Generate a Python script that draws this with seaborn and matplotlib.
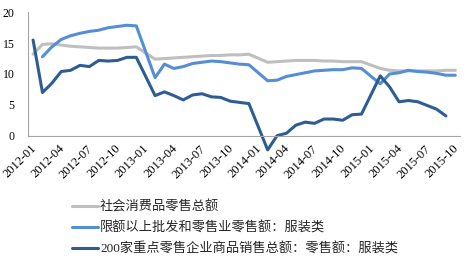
import numpy as np
import pandas as pd
import matplotlib
matplotlib.use("Agg")
import matplotlib.pyplot as plt
import seaborn as sns
from matplotlib.ticker import FixedLocator, NullFormatter

nan = np.nan

months = [f"{y}-{m:02d}" for y in (2012, 2013, 2014, 2015) for m in range(1, 13)][:46]
tick_labels = ["2012-01", "2012-04", "2012-07", "2012-10",
               "2013-01", "2013-04", "2013-07", "2013-10",
               "2014-01", "2014-04", "2014-07", "2014-10",
               "2015-01", "2015-04", "2015-07", "2015-10"]

series_names = ["社会消费品零售总额",
                "限额以上批发和零售业零售额：服装类",
                "200家重点零售企业商品销售总额：零售额：服装类"]

retail_total = [13.2, 14.8, 14.9, 14.7, 14.5, 14.4, 14.3, 14.2, 14.2, 14.2, 14.3, 14.4,
                nan, 12.4, 12.5, 12.6, 12.7, 12.8, 12.9, 13.0, 13.0, 13.1, 13.1, 13.2,
                nan, 11.9, 12.0, 12.1, 12.2, 12.2, 12.2, 12.1, 12.1, 12.0, 12.0, 12.0,
                nan, 10.9, 10.6, 10.5, 10.5, 10.5, 10.5, 10.5, 10.6, 10.6]

above_quota_apparel = [nan, 12.8, 14.4, 15.6, 16.2, 16.6, 16.9, 17.1, 17.5, 17.7, 17.9, 17.8,
                       nan, 9.4, 11.6, 10.9, 11.2, 11.7, 11.9, 12.1, 12.0, 11.8, 11.6, 11.5,
                       nan, 8.9, 9.0, 9.6, 9.9, 10.2, 10.5, 10.6, 10.7, 10.7, 11.0, 10.9,
                       nan, 8.4, 10.0, 10.2, 10.6, 10.4, 10.3, 10.1, 9.8, 9.8]

top200_apparel = [15.5, 7.0, 8.5, 10.4, 10.6, 11.4, 11.2, 12.2, 12.1, 12.2, 12.7, 12.7,
                  nan, 6.5, 7.1, 6.5, 5.8, 6.6, 6.8, 6.3, 6.2, 5.6, 5.4, 5.2,
                  nan, -2.3, 0.0, 0.4, 1.7, 2.2, 2.0, 2.7, 2.7, 2.5, 3.4, 3.5,
                  nan, 9.7, 7.9, 5.5, 5.7, 5.5, 4.9, 4.3, 3.2, nan]

colors = ["#BFBFBF", "#558ED5", "#2E5D94"]

sns.set_style("white")
plt.rcParams["font.family"] = ["Liberation Serif", "Noto Sans CJK SC", "DejaVu Sans"]

frames = []
for name, vals in zip(series_names, [retail_total, above_quota_apparel, top200_apparel]):
    frames.append(pd.DataFrame({"idx": np.arange(len(months)), "month": months,
                                "value": vals, "series": name}))
df = pd.concat(frames, ignore_index=True).dropna(subset=["value"])

fig = plt.figure(figsize=(4.77, 2.57), dpi=100)
W, H = 477, 257
ax = fig.add_axes([28.4 / W, 1 - 135.7 / H, (460 - 28.4) / W, (135.7 - 12.3) / H])

sns.lineplot(data=df, x="idx", y="value", hue="series", hue_order=series_names,
             palette=colors, linewidth=2.2, ax=ax, legend=True, sort=True)

for ln in ax.lines:
    ln.set_clip_on(False)
    ln.set_solid_joinstyle("round")

ax.set_xlim(-0.5, 45.5)
ax.set_ylim(0, 20)
ax.set_yticks([0, 5, 10, 15, 20])
ax.set_yticklabels(["0", "5", "10", "15", "20"], fontsize=8.5)

# labels (no tick mark) just right of the boundary tick marks
label_pos = np.arange(0, 46, 3) - 0.3
ax.set_xticks(label_pos)
ax.set_xticklabels(tick_labels, fontsize=9, rotation=45, ha="right",
                   rotation_mode="anchor", va="top")
ax.xaxis.set_minor_locator(FixedLocator(np.arange(-0.5, 45, 3)))
ax.xaxis.set_minor_formatter(NullFormatter())
ax.set_xlabel("")
ax.set_ylabel("")

for s in ["top", "right"]:
    ax.spines[s].set_visible(False)
for s in ["left", "bottom"]:
    ax.spines[s].set_color("#A6A6A6")
    ax.spines[s].set_linewidth(0.8)
ax.tick_params(axis="y", direction="out", length=3, width=0.8,
               color="#A6A6A6", labelcolor="black", pad=7)
ax.tick_params(axis="x", which="major", length=0, pad=5, labelcolor="black")
ax.tick_params(axis="x", which="minor", direction="out", length=4, width=0.8,
               color="#A6A6A6")

handles, labels = ax.get_legend_handles_labels()
ax.get_legend().remove()
leg = fig.legend(handles, labels, loc="upper left",
                 bbox_to_anchor=(72 / W, 1 - 200 / H), frameon=False,
                 borderpad=0, borderaxespad=0, handlelength=2.0,
                 handletextpad=0.12, labelspacing=0.62,
                 prop={"family": ["Liberation Serif", "Noto Sans CJK SC"], "size": 9.5})
for h in leg.legend_handles:
    h.set_linewidth(2.2)

fig.savefig("out.png", dpi=100)
